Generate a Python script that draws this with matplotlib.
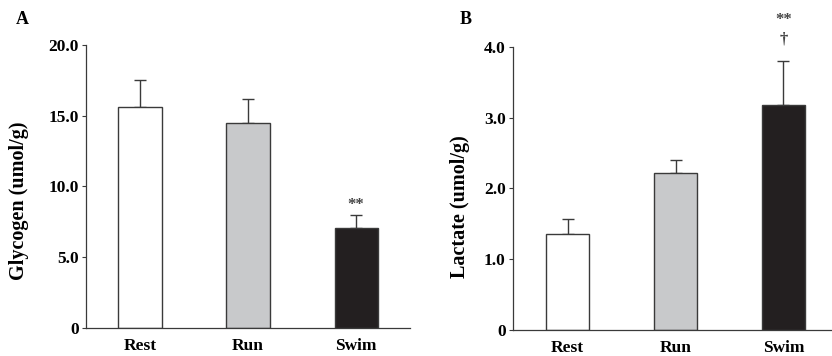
import numpy as np
import matplotlib.pyplot as plt

plt.rcParams['font.family'] = ['Liberation Serif', 'DejaVu Serif']
plt.rcParams['font.weight'] = 'bold'

groups = ['Rest', 'Run', 'Swim']
glycogen = [15.6, 14.5, 7.05]
glycogen_sd = [1.9, 1.7, 0.9]
lactate = [1.36, 2.21, 3.18]
lactate_sd = [0.21, 0.19, 0.62]

colors = ['white', '#c8c9cb', '#231f20']
edge = '#3a3a3a'

fig = plt.figure(figsize=(8.32, 3.56), dpi=100)
axA = fig.add_axes([0.1034, 0.0787, 0.3896, 0.795])
axB = fig.add_axes([0.6162, 0.073, 0.3838, 0.7958])

def draw(ax, vals, sd, ylim, ticks, ticklabels, ylabel, xlim, labpos):
    x = np.arange(len(vals))
    ax.bar(x, vals, width=0.4, color=colors, edgecolor=edge, linewidth=1.0, zorder=2)
    ax.errorbar(x, vals, yerr=[np.zeros(len(sd)), sd], fmt='none',
                ecolor=edge, elinewidth=1.0, capsize=4, capthick=1.0, zorder=1)
    ax.set_xlim(*xlim)
    ax.set_ylim(*ylim)
    ax.set_yticks(ticks)
    ax.set_yticklabels(ticklabels, fontsize=12.5, fontweight='bold')
    ax.set_xticks(x)
    ax.set_xticklabels(groups, fontsize=12.5, fontweight='bold')
    ax.tick_params(axis='x', length=0, pad=7)
    ax.tick_params(axis='y', length=3, width=0.8, color=edge, pad=2)
    for s in ['top', 'right']:
        ax.spines[s].set_visible(False)
    for s in ['left', 'bottom']:
        ax.spines[s].set_color(edge)
        ax.spines[s].set_linewidth(0.9)
    ax.set_ylabel(ylabel, fontsize=14.5, fontweight='bold')
    ax.yaxis.set_label_coords(*labpos)

draw(axA, glycogen, glycogen_sd, (0, 20), [0, 5, 10, 15, 20],
     ['0', '5.0', '10.0', '15.0', '20.0'], 'Glycogen (umol/g)', (-0.5, 2.5),
     (-0.177, 0.45))
draw(axB, lactate, lactate_sd, (0, 4), [0, 1, 2, 3, 4],
     ['0', '1.0', '2.0', '3.0', '4.0'], 'Lactate (umol/g)', (-0.51, 2.45),
     (-0.135, 0.435))

axA.text(2, glycogen[2] + glycogen_sd[2] + 0.2, '**', ha='center', va='bottom',
         fontsize=12, color='#444444')
axB.text(2, lactate[2] + lactate_sd[2] + 0.19, '†', ha='center', va='bottom',
         fontsize=12, color='#444444')
axB.text(2, lactate[2] + lactate_sd[2] + 0.46, '**', ha='center', va='bottom',
         fontsize=12, color='#444444')

fig.text(0.019, 0.945, 'A', fontsize=13, fontweight='bold', va='center')
fig.text(0.553, 0.945, 'B', fontsize=13, fontweight='bold', va='center')

fig.savefig('out.png', dpi=100)
